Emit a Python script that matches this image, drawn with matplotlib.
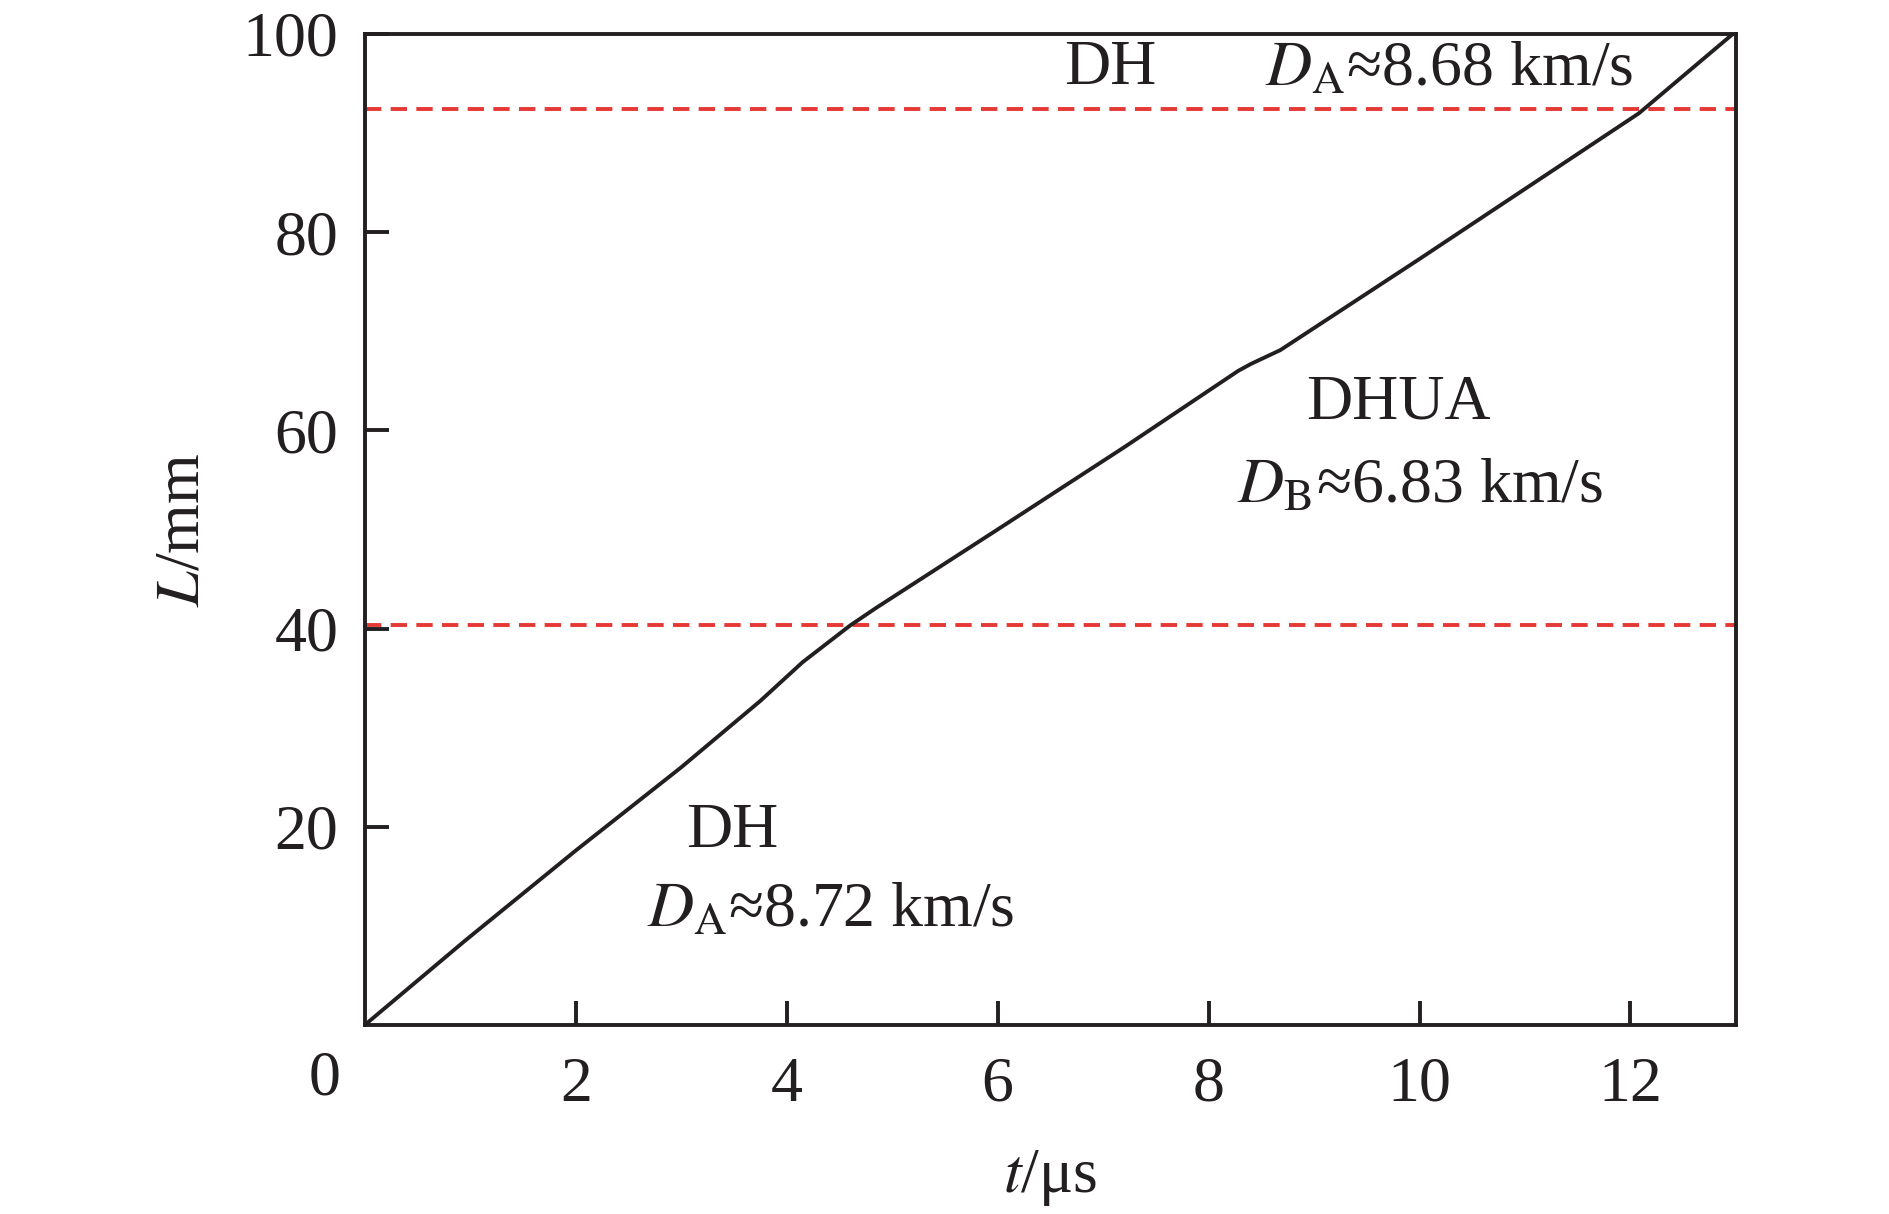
import matplotlib
matplotlib.use("Agg")
import matplotlib.pyplot as plt

plt.rcParams['font.family'] = ['Liberation Serif', 'DejaVu Serif']
plt.rcParams['mathtext.fontset'] = 'stix'

# trace
t_us = [0, 0.95, 2.0, 3.0, 3.75, 4.15, 4.6, 4.85, 6.0, 7.2, 8.28, 8.4, 8.5, 8.68, 10.0, 12.08, 12.97]
L_mm = [0, 8.5, 17.6, 26.0, 32.7, 36.6, 40.3, 42.1, 50.0, 58.3, 66.0, 66.7, 67.2, 68.1, 77.3, 92.0, 100.0]
boundaries = [40.4, 92.4]
xticks = [2, 4, 6, 8, 10, 12]
yticks = [20, 40, 60, 80, 100]

fig = plt.figure(figsize=(18.9, 12.14), dpi=100)
ax = fig.add_axes([0.193, 0.1557, 0.7255, 0.8163])

ax.plot(t_us, L_mm, color='#231f20', lw=2.8, zorder=3)
for b in boundaries:
    ax.axhline(b, color='#e53935', lw=2.8, dashes=(4.2, 2.4), zorder=2)

ax.set_xlim(0, 13)
ax.set_ylim(0, 100)
ax.set_xticks(xticks)
ax.set_yticks(yticks)
ax.tick_params(direction='in', length=17, width=2.8, labelsize=46, color='#231f20', labelcolor='#231f20')
ax.tick_params(axis='x', pad=23)
ax.tick_params(axis='y', pad=19)
for s in ax.spines.values():
    s.set_linewidth(2.8)
    s.set_color('#231f20')

ax.text(-0.029, -0.055, '0', transform=ax.transAxes, fontsize=46, color='#231f20', ha='center', va='center')

ax.set_xlabel(r'$t$/μs', fontsize=46, color='#231f20', labelpad=24)
ax.set_ylabel(r'$L$/mm', fontsize=46, color='#231f20', labelpad=22)

kw = dict(fontsize=46, color='#231f20', ha='center', va='center')
ax.text(7.07, 96.5, 'DH', **kw)
ax.text(10.28, 96.3, r'$D_{\rm A}$≈8.68 km/s', **kw)
ax.text(9.8, 62.7, 'DHUA', **kw)
ax.text(10.0, 54.2, r'$D_{\rm B}$≈6.83 km/s', **kw)
ax.text(3.48, 19.5, 'DH', **kw)
ax.text(4.42, 11.4, r'$D_{\rm A}$≈8.72 km/s', **kw)

fig.savefig('out.png', dpi=100)
